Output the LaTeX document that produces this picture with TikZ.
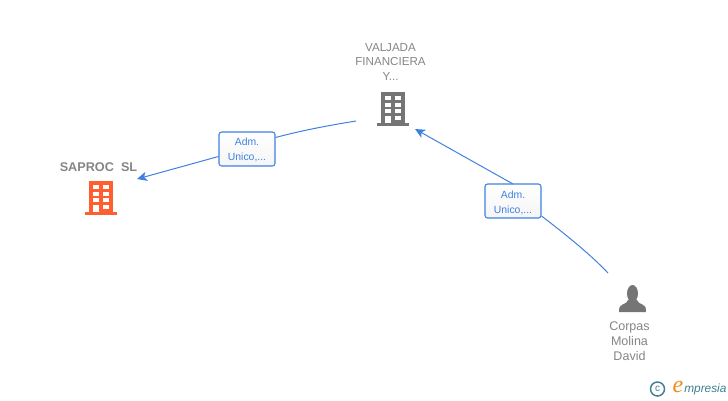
\documentclass[tikz,border=0pt]{standalone}
\usepackage{fontspec}
\setmainfont{Liberation Sans}
\newfontfamily\logofont{Liberation Serif}
\usetikzlibrary{positioning}
\usetikzlibrary{arrows.meta}
\definecolor{linkblue}{HTML}{3F80E0}
\definecolor{icongrey}{HTML}{757575}
\definecolor{textgrey}{HTML}{858585}
\definecolor{mainorange}{HTML}{FF5F2E}
\definecolor{logoteal}{HTML}{3F7F92}
\definecolor{logoorange}{HTML}{F08A1D}
\tikzset{
  role/.style={draw=linkblue, line width=0.8pt, rounded corners=2pt, top color=white, bottom color=black!4,
    minimum width=42pt, minimum height=25.5pt, inner sep=0pt, align=center, text=linkblue,
    font=\fontsize{7.8}{11.2}\selectfont},
  caption/.style={align=center, text=textgrey, inner sep=0pt, font=\fontsize{8.7}{11.2}\selectfont},
  link/.style={draw=linkblue, line width=0.75pt},
  tip/.style={-{Stealth[length=7.5pt,width=7pt,inset=2pt]}},
  building/.pic={
    \fill (-11.5,-17) rectangle (12,14);
    \fill (-16,14) rectangle (16,17);
    \fill[white] (-7.5,-13) rectangle (-2,-9);
    \fill[white] (2.5,-13) rectangle (8,-9);
    \fill[white] (-7.5,-6.5) rectangle (-2,-2.5);
    \fill[white] (2.5,-6.5) rectangle (8,-2.5);
    \fill[white] (-7.5,0) rectangle (-2,4);
    \fill[white] (2.5,0) rectangle (8,4);
    \fill[white] (-7.5,7) rectangle (-2,14);
    \fill[white] (2.5,7) rectangle (8,11);
  }
}
\begin{document}
\begin{tikzpicture}[x=0.75pt,y=-0.75pt]
\useasboundingbox (0,0) rectangle (728,400);
% companies
\node[caption, font=\bfseries\fontsize{9.5}{11.2}\selectfont] (saproc) at (98.5,167) {SAPROC\ \ SL};
\node[minimum width=24pt, minimum height=26pt, inner sep=0pt] (b1) at (100.5,198) {};
\pic[mainorange] at (b1) {building};
\node[caption] (valjada) at (390.5,62) {VALJADA\\FINANCIERA\\Y...};
\node[minimum width=24pt, minimum height=26pt, inner sep=0pt] (b2) at (392.5,109) {};
\pic[icongrey] at (b2) {building};
% person
\node[minimum width=20pt, minimum height=20pt, inner sep=0pt] (p) at (632.5,298.5) {};
\begin{scope}[shift={(p.center)}]
\fill[icongrey] (0,-5) ellipse (5.5 and 8.5);
\fill[icongrey] (-4,1) .. controls (-4.5,4) and (-8,5) .. (-10,6)
  .. controls (-13,7) and (-13.5,9) .. (-13.5,13.5) -- (13.5,13.5)
  .. controls (13.5,9) and (13,7) .. (10,6) .. controls (8,5) and (4.5,4) .. (4,1) -- cycle;
\end{scope}
\node[caption, font=\fontsize{9.4}{11.2}\selectfont] (corpas) at (629.5,341) {Corpas\\Molina\\David};
% roles
\node[role] (r1) at (247,149) {\rule{0pt}{7.1pt}Adm.\\Unico,...};
\node[role] (r2) at (513,201) {\rule{0pt}{8.6pt}Adm.\\Unico,...};
% connectors
\coordinate (s1) at (356,121);
\coordinate (t1) at (137,179);
\coordinate (s2) at (608,273);
\coordinate (t2) at (415,129);
\draw[link] (s1) .. controls (325,126) and (300,131) .. (r1.east |- 0,137.5);
\draw[link,tip] (r1.west |- 0,156.5) -- (t1);
\draw[link] (s2) .. controls (590,254) and (565,234) .. (r2.east |- 0,216);
\draw[link,tip] (r2.north |- 0,184) -- (t2);
% logo
\node[draw=logoteal, line width=1.1pt, circle, minimum size=10.5pt, inner sep=0pt, text=logoteal, font=\fontsize{7.5}{8}\selectfont] (c) at (657.5,389) {c};
\node[text=logoorange, inner sep=0pt, font=\logofont\itshape\fontsize{18}{18}\selectfont] (e) at (678,387) {e};
\node[text=logoteal, inner sep=0pt, anchor=west, font=\itshape\fontsize{8.9}{11}\selectfont] (m) at (684,389) {mpresia};
\end{tikzpicture}
\end{document}
